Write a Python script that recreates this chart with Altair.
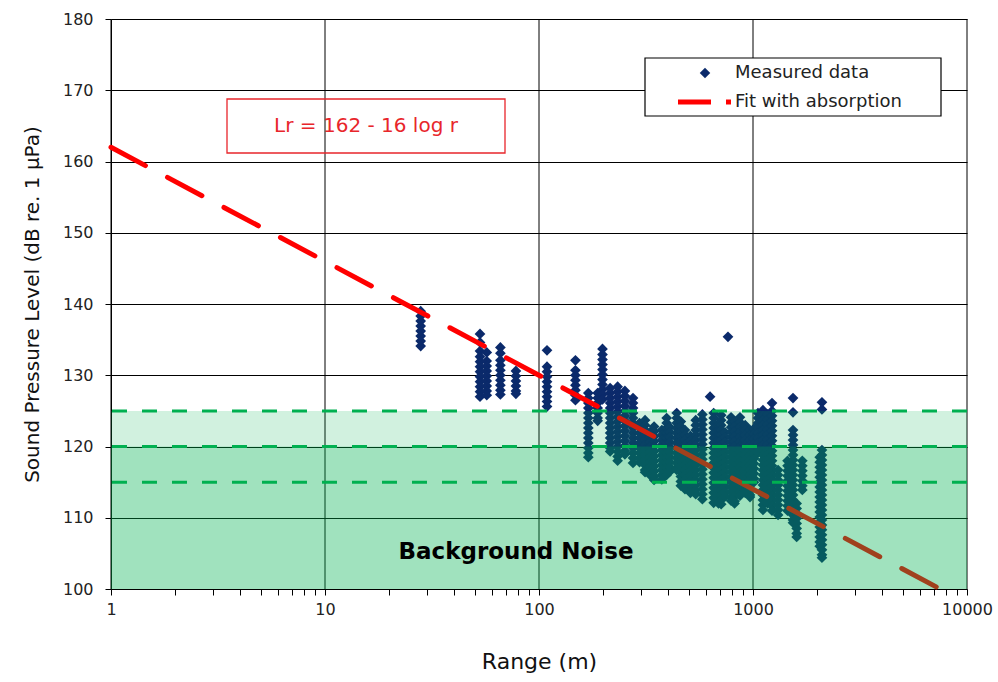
import altair as alt
import pandas as pd

# ---------------- data ----------------
# Measured data: range (m) of each measurement column and the levels (dB) in it
col_ranges = [28, 53, 57, 66, 78, 109, 148, 170, 188, 198, 215, 233, 252, 275,
              295, 313, 330, 345, 375, 395, 409, 440, 460, 481, 510, 540, 580,
              630, 655, 690, 710, 740, 764, 790, 820, 869, 920, 968, 1010, 1055,
              1113, 1170, 1227, 1310, 1450, 1538, 1600, 1700, 2050, 2100]
col_levels = [
    [139.0, 138.3, 137.6, 136.9, 136.2, 135.5, 134.8, 134.1],
    [135.8, 134.6, 133.4, 132.6, 131.9, 131.2, 130.5, 129.8, 129.1, 128.4, 127.7, 127.0],
    [133.2, 132.0, 131.3, 130.6, 129.9, 129.2, 128.5, 127.8, 127.2],
    [133.9, 133.1, 132.1, 131.4, 130.7, 130.0, 129.3, 128.6, 127.9, 127.3],
    [130.6, 129.9, 129.2, 128.5, 127.8, 127.4],
    [133.5, 131.2, 130.5, 129.8, 129.1, 128.4, 127.7, 127.0, 126.3, 125.6],
    [132.1, 130.7, 130.0, 129.3, 128.6, 127.9, 127.2, 126.5],
    [127.5, 126.8, 126.1, 125.4, 124.7, 124.0, 123.3, 122.6, 121.9, 121.2, 120.5, 119.8, 119.1, 118.5],
    [127.5, 126.8, 126.1, 125.4, 124.7, 124.0, 123.6],
    [133.7, 132.9, 132.2, 131.5, 130.8, 130.1, 129.4, 128.7, 128.0, 127.3, 126.6],
    [128.2, 127.5, 126.8, 126.1, 125.4, 124.7, 124.0, 123.3, 122.6, 121.9, 121.2, 120.5, 119.8, 119.3],
    [128.4, 127.7, 127.0, 126.3, 125.6, 124.9, 124.2, 123.5, 122.8, 122.1, 121.4, 120.7, 120.0, 119.3, 118.6, 118.0],
    [127.8, 127.1, 126.4, 125.7, 125.0, 124.3, 123.6, 122.9, 122.2, 121.5, 120.8, 120.1, 119.4, 118.9],
    [126.8, 126.1, 125.4, 124.7, 124.0, 123.3, 122.6, 121.9, 121.2, 120.5, 119.8, 119.1, 118.4, 117.7],
    [123.3, 122.6, 121.9, 121.2, 120.5, 119.8, 119.1, 118.4, 117.8],
    [123.7, 123.0, 122.3, 121.6, 120.9, 120.2, 119.5, 118.8, 118.1, 117.4, 116.7, 116.4],
    [122.0, 121.3, 120.6, 119.9, 119.2, 118.5, 117.8, 117.1, 116.4, 116.0],
    [122.8, 122.1, 121.4, 120.7, 120.0, 119.3, 118.6, 117.9, 117.2, 116.5, 115.8, 115.3],
    [122.3, 121.6, 120.9, 120.2, 119.5, 118.8, 118.1, 117.4, 116.7, 116.0, 115.4],
    [124.0, 123.3, 122.6, 121.9, 121.2, 120.5, 119.8, 119.1, 118.4, 117.7, 117.0, 116.3, 116.0],
    [122.7, 122.0, 121.3, 120.6, 119.9, 119.2, 118.5, 117.8, 117.1, 116.5],
    [124.7, 124.0, 123.3, 122.6, 121.9, 121.2, 120.5, 119.8, 119.1, 118.4, 117.7, 117.0, 116.7],
    [123.5, 122.8, 122.1, 121.4, 120.7, 120.0, 119.3, 118.6, 117.9, 117.2, 116.5, 115.8, 115.1, 114.5],
    [122.3, 121.6, 120.9, 120.2, 119.5, 118.8, 118.1, 117.4, 116.7, 116.0, 115.3, 114.6, 114.0],
    [121.5, 120.8, 120.1, 119.4, 118.7, 118.0, 117.3, 116.6, 115.9, 115.2, 114.5, 113.8, 113.5],
    [123.7, 123.0, 122.3, 121.6, 120.9, 120.2, 119.5, 118.8, 118.1, 117.4, 116.7, 116.0, 115.3, 114.6, 113.9, 113.3],
    [124.5, 123.8, 123.1, 122.4, 121.7, 121.0, 120.3, 119.6, 118.9, 118.2, 117.5, 116.8, 116.1, 115.4, 114.7, 114.0, 113.3, 112.6],
    [127.0],
    [124.7, 124.0, 123.3, 122.6, 121.9, 121.2, 120.5, 119.8, 119.1, 118.4, 117.7, 117.0, 116.3, 115.6, 114.9, 114.2, 113.5, 112.8, 112.1],
    [123.0, 122.3, 121.6, 120.9, 120.2, 119.5, 118.8, 118.1, 117.4, 116.7, 116.0, 115.3, 114.6, 113.9, 113.2, 112.5, 112.0],
    [124.4, 123.7, 123.0, 122.3, 121.6, 120.9, 120.2, 119.5, 118.8, 118.1, 117.4, 116.7, 116.0, 115.3, 114.6, 113.9, 113.2, 112.5, 111.9],
    [122.0, 121.3, 120.6, 119.9, 119.2, 118.5, 117.8, 117.1, 116.4, 115.7, 115.0, 114.3, 113.6, 113.0],
    [135.4],
    [124.1, 123.4, 122.7, 122.0, 121.3, 120.6, 119.9, 119.2, 118.5, 117.8, 117.1, 116.4, 115.7, 115.0, 114.3, 113.6, 112.9, 112.4],
    [123.5, 122.8, 122.1, 121.4, 120.7, 120.0, 119.3, 118.6, 117.9, 117.2, 116.5, 115.8, 115.1, 114.4, 113.7, 113.0, 112.3, 112.0],
    [124.1, 123.4, 122.7, 122.0, 121.3, 120.6, 119.9, 119.2, 118.5, 117.8, 117.1, 116.4, 115.7, 115.0, 114.3, 113.6, 113.1],
    [123.0, 122.3, 121.6, 120.9, 120.2, 119.5, 118.8, 118.1, 117.4, 116.7, 116.0, 115.3, 114.6, 113.9, 113.5],
    [122.3, 121.6, 120.9, 120.2, 119.5, 118.8, 118.1, 117.4, 116.7, 116.0, 115.3, 114.6, 113.9, 113.2, 112.9],
    [122.5, 121.8, 121.1, 120.4, 119.7, 119.0, 118.3, 117.6, 116.9, 116.2, 115.5, 115.0],
    [124.7, 124.0, 123.3, 122.6, 121.9, 121.2, 120.5, 119.8, 119.1],
    [125.1, 124.4, 123.7, 123.0, 122.3, 121.6, 120.9, 120.2, 119.5, 118.8, 118.1, 117.4, 116.7, 116.0, 115.3, 114.6, 113.9, 113.2, 112.5, 111.8, 111.1],
    [124.5, 123.8, 123.1, 122.4, 121.7, 121.0, 120.3, 119.6, 118.9, 118.2, 117.5, 116.8, 116.1, 115.4, 114.7, 114.0, 113.3, 112.6, 112.0],
    [126.1, 125.0, 124.3, 123.6, 122.9, 122.2, 121.5, 120.8, 120.1, 119.4, 118.7, 118.0, 117.3, 116.6, 115.9, 115.2, 114.5, 113.8, 113.1, 112.4, 111.7, 111.0],
    [116.7, 116.0, 115.3, 114.6, 113.9, 113.2, 112.5, 111.8, 111.1, 110.4],
    [118.0, 117.3, 116.6, 115.9, 115.2, 114.5, 113.8, 113.1, 112.4, 111.7, 111.0],
    [126.8, 124.8, 122.3, 121.6, 120.9, 120.2, 119.5, 118.8, 118.1, 117.4, 116.7, 116.0, 115.3, 114.6, 113.9, 113.2, 112.5, 111.8, 111.1, 110.4, 109.7, 109.3],
    [112.0, 111.3, 110.6, 109.9, 109.2, 108.5, 107.8, 107.3],
    [118.0, 117.3, 116.6, 115.9, 115.2, 114.5, 113.9],
    [118.5, 117.8, 117.1, 116.4, 115.7, 115.0, 114.3, 113.6, 112.9, 112.2, 111.5, 110.8, 110.1, 109.4, 108.7, 108.0, 107.3, 106.6, 106.0],
    [126.2, 125.2, 119.5, 118.8, 118.1, 117.4, 116.7, 116.0, 115.3, 114.6, 113.9, 113.2, 112.5, 111.8, 111.1, 110.4, 109.7, 109.0, 108.3, 107.6, 106.9, 106.2, 105.5, 104.8, 104.4],
]

# Fit with absorption: Lr = 162 - 16 log r  (end points of the drawn line)
fit_ranges = [1, 7500]
fit_levels = [162, 100]

# Background noise band and its dashed levels (dB)
noise_floor = [100]
noise_top = [125]
noise_mid = [120]
noise_lines = [125, 120, 115]

# Axes
x_domain = [1, 10000]
y_domain = [100, 180]
decades = [1, 10, 100, 1000, 10000]
x_ticks = [m * d for d in [1, 10, 100, 1000] for m in range(1, 10)] + [10000]
y_ticks = [100, 110, 120, 130, 140, 150, 160, 170, 180]

# ---------------- styling ----------------
FONT = "DejaVu Sans"
NAVY = "#0b2a6b"
RED = "#ff0000"
GREEN = "#00b050"
BOXRED = "#e8262b"

rows = []
for r, levels in zip(col_ranges, col_levels):
    for v in levels:
        rows.append({"r": r, "L": v})
pts = pd.DataFrame(rows)

x_enc = alt.X(
    "r:Q",
    scale=alt.Scale(type="log", domain=x_domain, nice=False),
    axis=alt.Axis(
        values=x_ticks, format="d",
        labelExpr="(datum.value==1||datum.value==10||datum.value==100||datum.value==1000||datum.value==10000) ? datum.label : ''",
        grid=False, domainColor="black", domainWidth=1, tickColor="black", tickSize=6,
        labelFont=FONT, labelFontSize=16, labelColor="#222", labelPadding=6,
        labelOverlap=False, labelFlush=False,
        title="Range (m)", titleFont=FONT, titleFontSize=22, titleFontWeight="normal",
        titleColor="#111", titlePadding=34,
    ),
)
y_enc = alt.Y(
    "L:Q",
    scale=alt.Scale(domain=y_domain, nice=False, zero=False),
    axis=alt.Axis(
        values=y_ticks, grid=True, gridColor="black", gridWidth=1, gridOpacity=1,
        domainColor="black", domainWidth=1, tickColor="black", tickSize=6,
        labelFont=FONT, labelFontSize=16, labelColor="#222", labelPadding=12,
        title="Sound Pressure Level (dB re. 1 µPa)", titleFont=FONT, titleFontSize=20,
        titleFontWeight="normal", titleColor="#111", titlePadding=20,
    ),
)

one = pd.DataFrame({"k": [0]})

vgrid = alt.Chart(pd.DataFrame({"r": decades})).mark_rule(
    color="black", strokeWidth=1).encode(x=x_enc)

points = alt.Chart(pts).mark_point(
    shape="diamond", filled=True, size=115, color=NAVY, opacity=1).encode(x=x_enc, y=y_enc)

fit = alt.Chart(pd.DataFrame({"r": fit_ranges, "L": fit_levels})).mark_line(
    color=RED, strokeWidth=5, strokeDash=[39, 25], strokeCap="round").encode(x=x_enc, y=y_enc)

band_df = pd.DataFrame({"r": [x_domain[0]], "r2": [x_domain[1]],
                        "L": noise_floor, "L2": noise_top, "L3": noise_mid})
band_outer = alt.Chart(band_df).mark_rect(color=GREEN, opacity=0.18).encode(
    x=x_enc, x2="r2:Q", y=y_enc, y2="L2:Q")
band_inner = alt.Chart(band_df).mark_rect(color=GREEN, opacity=0.23).encode(
    x=x_enc, x2="r2:Q", y=y_enc, y2="L3:Q")

dashes = alt.Chart(pd.DataFrame({"L": noise_lines})).mark_rule(
    color=GREEN, strokeWidth=3, strokeDash=[15, 15]).encode(y=y_enc)

noise_text = alt.Chart(one).mark_text(
    text="Background Noise", font=FONT, fontSize=23, fontWeight="bold",
    color="black", align="center", baseline="middle").encode(
    x=alt.value(405), y=alt.value(533))

ann_box = alt.Chart(one).mark_rect(
    fill="white", fillOpacity=0, stroke=BOXRED, strokeWidth=1.3).encode(
    x=alt.value(116), x2=alt.value(394), y=alt.value(80), y2=alt.value(134))
ann_text = alt.Chart(one).mark_text(
    text="Lr = 162 - 16 log r", font=FONT, fontSize=20, color=BOXRED,
    align="center", baseline="middle").encode(x=alt.value(255), y=alt.value(107))

leg_box = alt.Chart(one).mark_rect(
    fill="white", stroke="black", strokeWidth=1.2).encode(
    x=alt.value(534), x2=alt.value(830), y=alt.value(39), y2=alt.value(97))
leg_pt = alt.Chart(one).mark_point(
    shape="diamond", filled=True, size=110, color=NAVY, opacity=1).encode(
    x=alt.value(594), y=alt.value(54))
leg_line = alt.Chart(one).mark_rule(color=RED, strokeWidth=5).encode(
    x=alt.value(567), x2=alt.value(600), y=alt.value(83))
leg_dot = alt.Chart(one).mark_rule(color=RED, strokeWidth=5).encode(
    x=alt.value(615), x2=alt.value(620), y=alt.value(83))
leg_t1 = alt.Chart(one).mark_text(
    text="Measured data", font=FONT, fontSize=18, color="#222",
    align="left", baseline="middle").encode(x=alt.value(624), y=alt.value(54))
leg_t2 = alt.Chart(one).mark_text(
    text="Fit with absorption", font=FONT, fontSize=18, color="#222",
    align="left", baseline="middle").encode(x=alt.value(624), y=alt.value(83))

chart = alt.layer(
    vgrid, points, fit, band_outer, band_inner, dashes, noise_text,
    ann_box, ann_text, leg_box, leg_pt, leg_line, leg_dot, leg_t1, leg_t2,
).properties(
    width=856, height=570,
    autosize=alt.AutoSizeParams(type="none"),
    padding={"left": 111, "top": 19, "right": 31, "bottom": 93},
    background="white",
).configure_view(stroke=None)

chart.save("out.html", embed_options={"renderer": "svg", "actions": False})
